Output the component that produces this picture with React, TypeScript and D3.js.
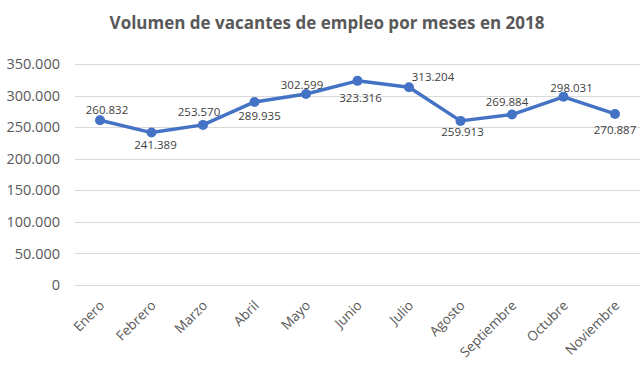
import React, { useEffect, useRef } from 'react'
import * as d3 from 'd3'

const months = ['Enero', 'Febrero', 'Marzo', 'Abril', 'Mayo', 'Junio', 'Julio', 'Agosto', 'Septiembre', 'Octubre', 'Noviembre']
const vacantes = [260832, 241389, 253570, 289935, 302599, 323316, 313204, 259913, 269884, 298031, 270887]
const yTicks = [0, 50000, 100000, 150000, 200000, 250000, 300000, 350000]
// label nudges, as Excel placed them (px from the marker)
const labelDx = [7, 4, -4, 5, -4, 3, 24, 2, -5, 8, 0]
const labelDy = [-10, 12, -13, 14, -9, 17, -10, 11, -13, -9, 16]

const width = 640
const height = 368
const font = '"Open Sans", "Liberation Sans", sans-serif'

const fmt = (v: number) => d3.format(',')(v).replace(/,/g, '.')

const App = () => {
  const ref = useRef<SVGSVGElement>(null)

  useEffect(() => {
    const svg = d3.select(ref.current)
    svg.selectAll('*').remove()

    const x = d3.scalePoint<string>().domain(months).range([100, 615])
    const y = d3.scaleLinear().domain([0, 350000]).range([285, 64])

    svg.append('text')
      .attr('x', 327).attr('y', 29)
      .attr('text-anchor', 'middle')
      .style('font', `bold 17px ${font}`)
      .attr('fill', '#595959')
      .text('Volumen de vacantes de empleo por meses en 2018')

    // grid
    svg.append('g')
      .selectAll('line')
      .data(yTicks)
      .join('line')
      .attr('x1', 75).attr('x2', 640)
      .attr('y1', d => Math.round(y(d)) + 0.5).attr('y2', d => Math.round(y(d)) + 0.5)
      .attr('stroke', '#d9d9d9')

    svg.append('g')
      .selectAll('text')
      .data(yTicks)
      .join('text')
      .attr('x', 60).attr('y', d => y(d))
      .attr('dy', '0.35em')
      .attr('text-anchor', 'end')
      .style('font', `14.5px ${font}`)
      .attr('fill', '#595959')
      .text(d => fmt(d))

    svg.append('g')
      .selectAll('text')
      .data(months)
      .join('text')
      .attr('transform', d => `translate(${x(d)! + 2},${303}) rotate(-45)`)
      .attr('text-anchor', 'end')
      .attr('dy', '0.35em')
      .style('font', `13.5px ${font}`)
      .attr('fill', '#595959')
      .text(d => d)

    const line = d3.line<number>()
      .x((d, i) => x(months[i])!)
      .y(d => y(d))

    svg.append('path')
      .datum(vacantes)
      .attr('d', line)
      .attr('fill', 'none')
      .attr('stroke', '#4472c4')
      .attr('stroke-width', 3.5)
      .attr('stroke-linejoin', 'round')

    svg.append('g')
      .selectAll('circle')
      .data(vacantes)
      .join('circle')
      .attr('cx', (d, i) => x(months[i])!)
      .attr('cy', d => y(d))
      .attr('r', 5)
      .attr('fill', '#4472c4')

    svg.append('g')
      .selectAll('text')
      .data(vacantes)
      .join('text')
      .attr('x', (d, i) => x(months[i])! + labelDx[i])
      .attr('y', (d, i) => y(d) + labelDy[i])
      .attr('dy', '0.35em')
      .attr('text-anchor', 'middle')
      .style('font', `11.5px ${font}`)
      .attr('fill', '#404040')
      .text(d => fmt(d))
  }, [])

  return (
    <svg ref={ref} width={width} height={height}
      style={{ position: 'absolute', left: 0, top: 0, background: '#fff' }} />
  )
}

export default App
